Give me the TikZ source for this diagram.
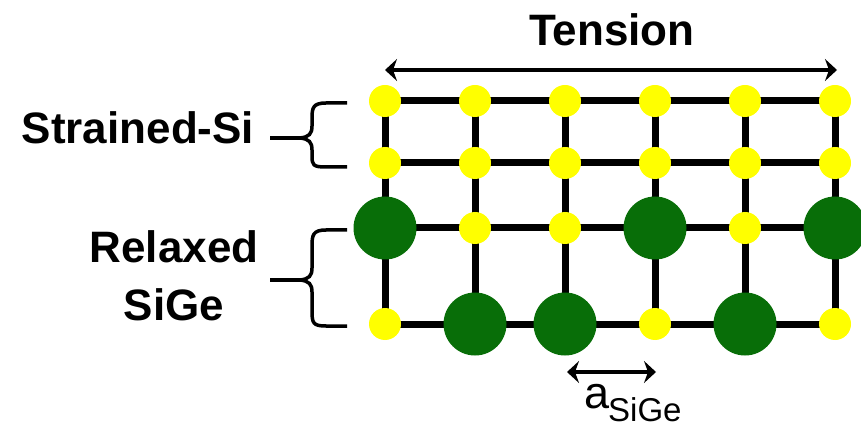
\documentclass[tikz,border=0pt]{standalone}
\usepackage{fontspec}
\setmainfont{Liberation Sans}
\usetikzlibrary{arrows.meta}
\definecolor{sige}{RGB}{8,110,8}
\definecolor{siy}{RGB}{255,255,0}
\begin{document}
\begin{tikzpicture}[x=1pt,y=-1pt,
  bond/.style={line width=7pt},
  ysi/.style={circle,fill=siy,minimum size=32pt,inner sep=0pt},
  gge/.style={circle,fill=sige,minimum size=63pt,inner sep=0pt},
  dim/.style={line width=4.5pt,{Stealth[length=12pt,width=22pt,inset=4pt]}-{Stealth[length=12pt,width=22pt,inset=4pt]}},
  brace/.style={line width=3.5pt,line cap=butt},
  lbl/.style={font=\bfseries\fontsize{44}{48}\selectfont,inner sep=0pt}]
\useasboundingbox (0,0) rectangle (861,427);
% coordinates of lattice sites
\foreach \c/\x in {1/385,2/475,3/565,4/655,5/745,6/835}{
  \foreach \r/\y in {1/101,2/163,3/228,4/324}{
    \coordinate (p\c\r) at (\x,\y);
  }
}
% bonds
\foreach \c in {1,...,6}{\draw[bond] (p\c1) -- (p\c4);}
\foreach \r in {1,...,4}{\draw[bond] (p1\r) -- (p6\r);}
% atoms
\foreach \c in {1,...,6}{
  \node[ysi] (a\c1) at (p\c1) {};
  \node[ysi] (a\c2) at (p\c2) {};
}
\node[gge] (a13) at (p13) {};
\node[ysi] (a23) at (p23) {};
\node[ysi] (a33) at (p33) {};
\node[gge] (a43) at (p43) {};
\node[ysi] (a53) at (p53) {};
\node[gge] (a63) at (p63) {};
\node[ysi] (a14) at (p14) {};
\node[gge] (a24) at (p24) {};
\node[gge] (a34) at (p34) {};
\node[ysi] (a44) at (p44) {};
\node[gge] (a54) at (p54) {};
\node[ysi] (a64) at (p64) {};
% tension
\coordinate (tl) at (385,70);
\coordinate (tr) at (837,70);
\draw[dim] (tl) -- (tr);
\node[lbl] (tension) at (612,30) {Tension};
% lattice constant
\coordinate (al) at (567,372);
\coordinate (ar) at (656,372);
\draw[dim] (al) -- (ar);
\node[font=\fontsize{45}{48}\selectfont,inner sep=0pt,anchor=base] (alab) at (597,408) {a};
\node[font=\fontsize{33}{36}\selectfont,inner sep=0pt,anchor=base west] (asub) at (608,421) {SiGe};
% labels
\node[lbl] (strained) at (138,128) {Strained-Si};
\node[lbl,align=center,font=\bfseries\fontsize{44}{58}\selectfont] (relaxed) at (174,276) {Relaxed\\SiGe};
% braces
\draw[brace] (347,103) -- (326,103) .. controls (313,103) and (312,108) .. (312,118)
  -- (312,126) .. controls (312,134) and (309,137) .. (300,138)
  .. controls (309,139) and (312,142) .. (312,150) -- (312,156)
  .. controls (312,165) and (313,167) .. (326,167) -- (347,167);
\draw[brace] (300,138) -- (270,138);
\draw[brace] (347,230) -- (326,230) .. controls (313,230) and (312,235) .. (312,246)
  -- (312,268) .. controls (312,276) and (309,279) .. (300,280)
  .. controls (309,281) and (312,284) .. (312,292) -- (312,311)
  .. controls (312,323) and (313,326) .. (326,326) -- (347,326);
\draw[brace] (300,280) -- (270,280);
\end{tikzpicture}
\end{document}
